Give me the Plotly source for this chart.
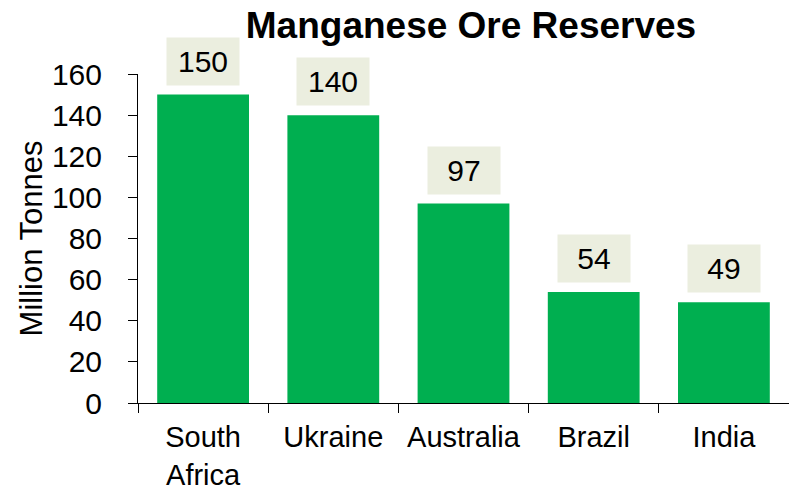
import plotly.graph_objects as go

countries = ["South<br>Africa", "Ukraine", "Australia", "Brazil", "India"]
reserves = [150, 140, 97, 54, 49]
y_ticks = [0, 20, 40, 60, 80, 100, 120, 140, 160]

FONT = "Liberation Sans, Arial, Helvetica, sans-serif"
W, H = 789, 491

fig = go.Figure(go.Bar(
    x=countries, y=reserves,
    marker=dict(color="#00AF50", line=dict(width=0)),
    hoverinfo="skip",
))

for c, v in zip(countries, reserves):
    fig.add_annotation(
        x=c, y=v, xref="x", yref="y", text=str(v), showarrow=False,
        yanchor="bottom", yshift=9, bgcolor="#EBEEDF",
        width=70, height=45, font=dict(size=30, color="black", family=FONT),
    )

fig.update_layout(
    width=W, height=H,
    margin=dict(l=138, r=0, t=74, b=88),
    paper_bgcolor="white", plot_bgcolor="white",
    bargap=0.295,
    showlegend=False,
    font=dict(family=FONT, size=30, color="black"),
    title=dict(text="<b>Manganese Ore Reserves</b>", x=471 / W, xanchor="center",
               xref="container", y=1 - 25 / H, yanchor="middle", yref="container",
               font=dict(size=37, color="black", family=FONT)),
    xaxis=dict(showline=True, linecolor="black", linewidth=1, ticks="outside",
               ticklen=9, tickcolor="black", tickson="boundaries", showgrid=False,
               tickfont=dict(size=29), automargin=False, ticklabelstandoff=8),
    yaxis=dict(range=[0, 160], tickvals=y_ticks, showline=True, linecolor="black",
               linewidth=1, ticks="outside", ticklen=9, tickcolor="black",
               showgrid=False, zeroline=False, automargin=False,
               ticklabelstandoff=20,
               title=dict(text="Million Tonnes", font=dict(size=31), standoff=0),
               tickfont=dict(size=30)),
)

fig.write_html("out.html", config={"displayModeBar": False},
               post_script="document.body.style.margin='0px';")
